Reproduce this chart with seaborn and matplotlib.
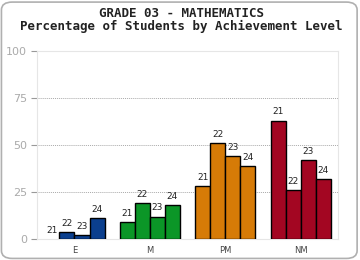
import matplotlib
matplotlib.use("Agg")
import matplotlib.pyplot as plt
import numpy as np
import pandas as pd
import seaborn as sns
from matplotlib.patches import FancyBboxPatch

# data
levels = ["E", "M", "PM", "NM"]
years = ["21", "22", "23", "24"]
pct_21 = [0, 9, 28, 63]
pct_22 = [4, 19, 51, 26]
pct_23 = [2, 12, 44, 42]
pct_24 = [11, 18, 39, 32]
level_colors = ["#0b3f8e", "#0b9627", "#d67b07", "#a30622"]
y_ticks = [0, 25, 50, 75, 100]

rows = []
for yr, vals in zip(years, [pct_21, pct_22, pct_23, pct_24]):
    for lv, v in zip(levels, vals):
        rows.append({"level": lv, "year": yr, "pct": v})
df = pd.DataFrame(rows)

sns.set_style("white")
fig = plt.figure(figsize=(3.6, 2.6), dpi=100)
fig.patch.set_facecolor("white")

# rounded frame around the whole chart
frame = FancyBboxPatch((0.004, 0.006), 0.988, 0.986, boxstyle="round,pad=0,rounding_size=0.03",
                       transform=fig.transFigure, facecolor="none", edgecolor="#b0b0b0",
                       linewidth=1.2, zorder=10)
fig.patches.append(frame)

ax = fig.add_axes([0.102, 0.080, 0.838, 0.724])
ax.set_facecolor("none")

sns.barplot(data=df, x="level", y="pct", hue="year", order=levels, hue_order=years,
            width=0.8, edgecolor="black", linewidth=1.0, legend=False, ax=ax, zorder=3)

for cont, yr in zip(ax.containers, years):
    for i, bar in enumerate(cont):
        bar.set_facecolor(level_colors[i])
        if bar.get_height() == 0:
            bar.set_linewidth(0)
    ax.bar_label(cont, labels=[yr] * len(levels), padding=3, fontsize=6.5,
                 color="#222222", zorder=4)

ax.set_ylim(0, 100)
ax.set_yticks(y_ticks)
ax.set_yticklabels([str(t) for t in y_ticks], fontsize=8, color="#aaaaaa")
for t in [25, 50, 75]:
    ax.axhline(t, color="#aaaaaa", linestyle=(0, (1, 1)), linewidth=0.7, zorder=1)
ax.tick_params(axis="y", left=True, length=4, width=0.8, color="#999999", pad=3)
ax.tick_params(axis="x", length=0, labelsize=6, labelcolor="#444444", pad=5)
ax.set_xlabel("")
ax.set_ylabel("")
for side in ["top", "right", "left", "bottom"]:
    ax.spines[side].set_color("#e6e6e6")
    ax.spines[side].set_linewidth(0.8)

fig.text(0.503, 0.947, "GRADE 03 - MATHEMATICS", ha="center", va="center",
         fontsize=9, fontweight="bold", family="DejaVu Sans Mono", color="#222222")
fig.text(0.503, 0.900, "Percentage of Students by Achievement Level", ha="center", va="center",
         fontsize=9, fontweight="bold", family="DejaVu Sans Mono", color="#222222")

fig.savefig("out.png", dpi=100, facecolor="white")
